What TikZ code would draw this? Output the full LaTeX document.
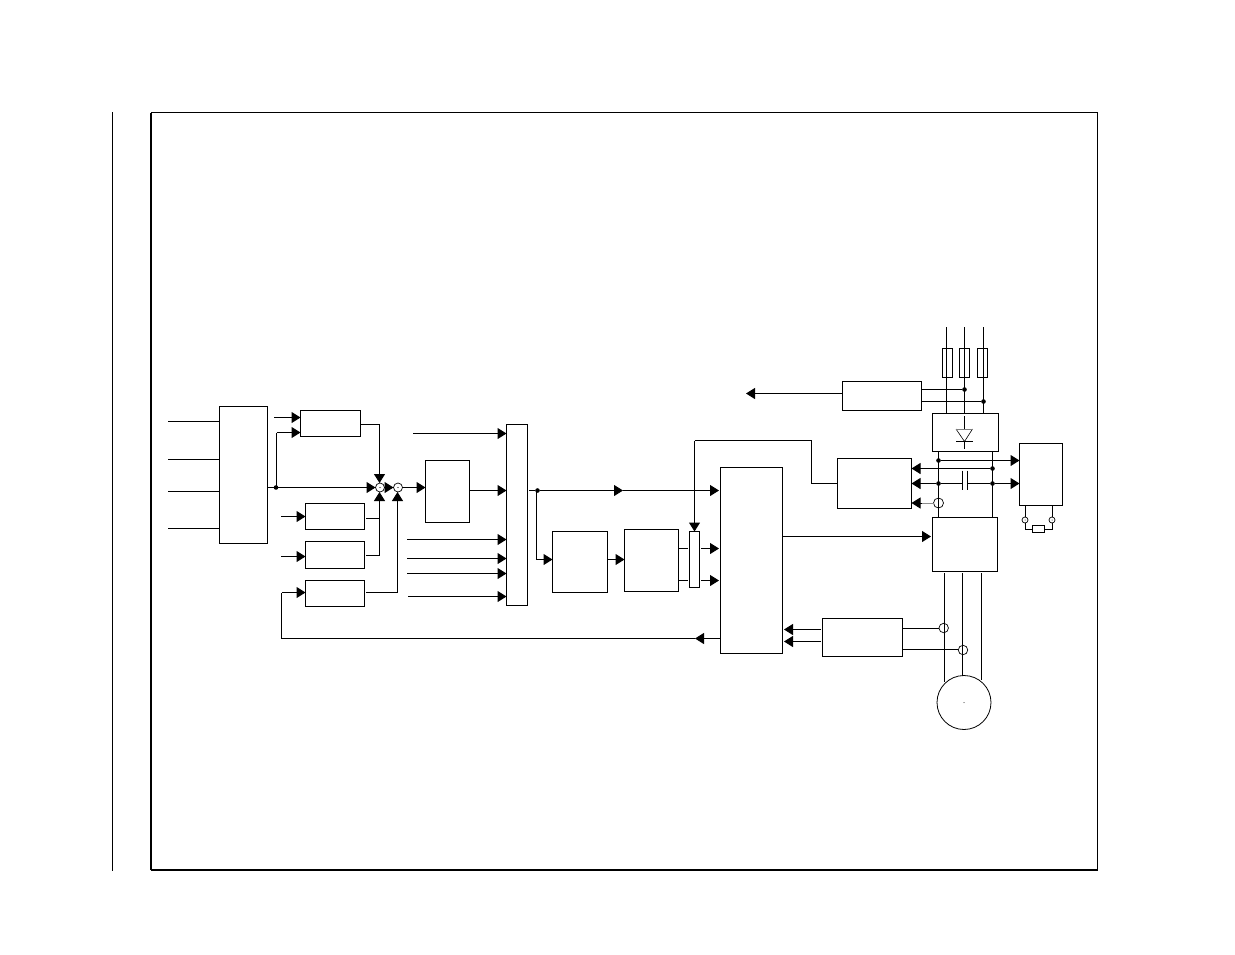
\documentclass[tikz,border=0pt]{standalone}
\usetikzlibrary{arrows.meta}
\tikzset{
  x=1pt,y=-1pt,
  box/.style={draw=black,fill=white,rectangle,line width=1pt,inner sep=0pt,outer sep=0pt},
  ln/.style={draw=black,line width=1pt},
  arr/.style={ln,-{Triangle[length=9pt,width=11pt]}},
  arrs/.style={ln,-{Triangle[length=9pt,width=11pt]},shorten >=1.5pt},
  dot/.style={circle,fill=black,inner sep=0pt,minimum size=4.6pt,outer sep=0pt},
  ring/.style={circle,draw=black,fill=white,line width=0.7pt,inner sep=0pt,outer sep=0pt},
}
\newcommand{\bx}[5]{\node[box,minimum width={(#4-#2)*1pt},minimum height={(#5-#3)*1pt}] (#1) at ({(#2+#4)/2},{(#3+#5)/2}) {};}
\begin{document}
\begin{tikzpicture}
\useasboundingbox (0,0) rectangle (1235,954);
% frame
\node[box,fill=none,minimum width=946.5pt,minimum height=757.5pt] (frame) at (624.25,491.25) {};
\draw[line width=2pt] (frame.south west) -- (frame.south east);
\draw[line width=2pt] (frame.south west) -- (frame.north west);
\coordinate (rulet) at (112.5,112); \coordinate (ruleb) at (112.5,871);
\draw[ln] (rulet) -- (ruleb);
% boxes
\bx{L}{219.5}{406.5}{267.5}{543.5}
\bx{A}{300.5}{410.5}{360.5}{436.5}
\bx{B}{305.5}{503.5}{364.5}{529.5}
\bx{C}{305.5}{541.5}{364.5}{568.5}
\bx{D}{305.5}{580.5}{364.5}{606.5}
\bx{E}{425.5}{460.5}{469.5}{522.5}
\bx{M}{506.5}{424.5}{527.5}{605.5}
\bx{F}{552.5}{531.5}{607.5}{592.5}
\bx{G}{624.5}{529.5}{678.5}{591.5}
\bx{H}{689.5}{531.5}{699.5}{587.5}
\bx{I}{720.5}{467.5}{782.5}{653.5}
\bx{J}{822.5}{618.5}{902.5}{656.5}
\bx{K}{842.5}{381.5}{921.5}{410.5}
\bx{N}{837.5}{458.5}{911.5}{508.5}
\bx{Inv}{932.5}{517.5}{997.5}{571.5}
\bx{Rec}{932.5}{413.5}{998.5}{451.5}
\bx{Br}{1019.5}{443.5}{1062.5}{505.5}
% left inputs
\foreach \n/\y in {1/421.5,2/459.5,3/491.5,4/528.5}{
  \coordinate (li\n) at (168,\y);
  \draw[ln] (li\n) -- (L.west |- li\n);
}
% summing points
\node[ring,minimum size=9pt] (s1) at (380,487.5) {};
\node[ring,minimum size=9pt] (s2) at (398,487.5) {};
\node[circle,fill=black,inner sep=0pt,minimum size=1.2pt] (s1d) at (380,487.5) {};
\node[circle,fill=black,inner sep=0pt,minimum size=1.2pt] (s2d) at (398,487.5) {};
\node[dot] (j1) at (276,487.5) {};
\coordinate (L1) at (L.east |- j1);
\draw[ln] (L1) -- (j1);
\draw[arr] (j1) -- (s1.west);
\coordinate (a1) at (274,417.5);
\draw[arr] (a1) -- (A.west |- a1);
\coordinate (a2) at (276.5,432.5);
\coordinate (j1u) at (276.5,487.5);
\draw[ln] (j1u) -- (a2);
\draw[arr] (a2) -- (A.west |- a2);
\coordinate (a3) at (379.5,424.5);
\draw[arr] (A.east |- a3) -- (a3) -- (s1.north -| a3);
\coordinate (b1) at (281,516.5);
\coordinate (c1) at (281,556.5);
\draw[arr] (b1) -- (B.west |- b1);
\draw[arr] (c1) -- (C.west |- c1);
\coordinate (b2) at (366,518.5);
\coordinate (c2) at (366,555.5);
\coordinate (d2) at (366,592.5);
\coordinate (sb) at (379.5,555.5);
\coordinate (sd) at (397.5,592.5);
\draw[ln] (b2) -- (b2 -| sb);
\draw[arr] (c2) -- (sb) -- (s1.south -| sb);
\draw[arr] (d2) -- (sd) -- (s2.south -| sd);
\draw[arr] (s1.east) -- (s2.west);
\draw[arr] (s2.east) -- (E.west |- s2);
% feedback
\coordinate (fbm) at (695,638.5);
\coordinate (fbc) at (281.5,638.5);
\coordinate (fbu) at (281.5,592.5);
\coordinate (fbs) at (720.5,638.5);
\draw[arr] (fbs) -- (fbm);
\draw[ln] (fbm) -- (fbc) -- (fbu);
\draw[arr] (fbu) -- (D.west |- fbu);
% mux
\coordinate (e1) at (469.5,490.5);
\draw[arr] (e1) -- (M.west |- e1);
\foreach \n/\x/\y in {1/413/433.5,2/407/539.5,3/407/558.5,4/407/573.5,5/408/596.5}{
  \coordinate (mi\n) at (\x,\y);
  \draw[arr] (mi\n) -- (M.west |- mi\n);
}
\node[dot] (j2) at (537.5,490.5) {};
\coordinate (mo) at (529,490.5);
\coordinate (mm) at (623,490.5);
\draw[ln] (mo) -- (j2);
\draw[arr] (j2) -- (mm);
\draw[arrs] (mm) -- (I.west |- mm);
\coordinate (j2b) at (536.5,490.5);
\coordinate (f1) at (536.5,559.5);
\draw[ln] (j2b) -- (f1);
\draw[arr] (f1) -- (F.west |- f1);
\coordinate (f2) at (607.5,559.5);
\draw[arr] (f2) -- (G.west |- f2);
\coordinate (g1) at (678.5,548.5);
\coordinate (g2) at (678.5,580.5);
\draw[ln] (g1) -- (688,548.5);
\draw[ln] (g2) -- (688,580.5);
\coordinate (h1) at (701,548.5);
\coordinate (h2) at (701,580.5);
\draw[arrs] (h1) -- (I.west |- h1);
\draw[arrs] (h2) -- (I.west |- h2);
\coordinate (t1) at (694.5,440.5);
\coordinate (t2) at (811.5,440.5);
\coordinate (t3) at (811.5,483.5);
\draw[ln] (N.west |- t3) -- (t3) -- (t2) -- (t1);
\draw[arr] (t1) -- (H.north -| t1);
\coordinate (i1) at (782.5,536.5);
\draw[arrs] (i1) -- (Inv.west |- i1);
% J
\coordinate (j1a) at (821,629.5);
\coordinate (j1b) at (821,641.5);
\draw[arr] (j1a) -- (784,629.5);
\draw[arr] (j1b) -- (784,641.5);
% mains
\coordinate (p1) at (946.5,327);
\coordinate (p2) at (964.5,327);
\coordinate (p3) at (983.5,327);
\bx{Fa}{942.5}{348.5}{952.5}{377.5}
\bx{Fb}{959.5}{348.5}{969.5}{377.5}
\bx{Fc}{977.5}{348.5}{987.5}{377.5}
\draw[ln] (p1) -- (Rec.north -| p1);
\draw[ln] (p2) -- (Rec.north -| p2);
\draw[ln] (p3) -- (Rec.north -| p3);
\node[dot] (k1) at (964.5,389.5) {};
\node[dot] (k2) at (983.5,401.5) {};
\draw[ln] (K.east |- k1) -- (k1);
\draw[ln] (K.east |- k2) -- (k2);
\coordinate (kl) at (842.5,393.5);
\coordinate (kt) at (746,393.5);
\draw[arr] (kl) -- (kt);
% diode
\coordinate (d0) at (964.5,416);
\coordinate (d1) at (964.5,429);
\coordinate (d2t) at (964.5,441.5);
\coordinate (d3) at (964.5,449);
\draw[ln] (d0) -- (d1) (d2t) -- (d3);
\draw[line width=0.6pt] (956,429) -- (d2t) -- (972.5,429);
\draw[draw=black!50,line width=1pt] (956,429.5) -- (972.5,429.5);
\draw[ln] (956,441.5) -- (972.5,441.5);
% DC bus
\coordinate (bu1) at (938.5,451.5);
\coordinate (bu2) at (992.5,451.5);
\draw[ln] (bu1) -- (Inv.north -| bu1);
\draw[ln] (bu2) -- (Inv.north -| bu2);
\node[dot] (n1) at (938.5,460.5) {};
\node[dot] (n2) at (992.5,468.5) {};
\node[dot] (n3) at (938.5,483.5) {};
\node[dot] (n4) at (992.5,483.5) {};
\draw[arr] (n1) -- (Br.west |- n1);
\draw[arr] (n2) -- (N.east |- n2);
\coordinate (cl) at (962.5,483.5);
\coordinate (cr) at (967.5,483.5);
\draw[ln] (cl) -- (n3);
\draw[arr] (n3) -- (N.east |- n3);
\draw[ln] (cr) -- (n4);
\draw[arr] (n4) -- (Br.west |- n4);
\draw[ln] (962.5,470.5) -- (962.5,490);
\draw[ln] (967.5,470.5) -- (967.5,490);
\node[ring,minimum size=10pt] (cs) at (938.5,503) {};
\draw[ln] (938.5,498) -- (938.5,508);
\coordinate (csa) at (922,503);
\draw[draw=black!45,line width=1pt] (cs.west) -- (csa);
\draw[arr] (csa) -- (N.east |- cs);
% motor leads
\node[circle,draw=black,fill=white,line width=0.8pt,minimum size=54pt,inner sep=0pt,outer sep=0pt] (mot) at (964,702.5) {};
\node[circle,fill=black,inner sep=0pt,minimum size=1pt] (motd) at (964,702.5) {};
\coordinate (m1) at (944.5,573);
\coordinate (m2) at (962.5,573);
\coordinate (m3) at (981.5,573);
\draw[ln] (m1) -- (944.5,682);
\draw[ln] (m2) -- (962.5,675.5);
\draw[ln] (m3) -- (981.5,680);
\node[ring,minimum size=9.5pt,fill=none] (cs1) at (943.7,628) {};
\node[ring,minimum size=9.5pt,fill=none] (cs2) at (963,650) {};
\coordinate (js1) at (902.5,628.5);
\coordinate (js2) at (902.5,649.5);
\draw[ln] (js1) -- (js1 -| cs1.west);
\draw[ln] (js2) -- (js2 -| cs2.west);
% brake resistor
\node[ring,minimum size=6pt] (r1) at (1025,520) {};
\node[ring,minimum size=6pt] (r2) at (1052,520) {};
\node[circle,fill=black,inner sep=0pt,minimum size=1pt] (r1d) at (1025,520) {};
\node[circle,fill=black,inner sep=0pt,minimum size=1pt] (r2d) at (1052,520) {};
\bx{R}{1032.5}{525.5}{1044.5}{532.5}
\draw[ln] (Br.south -| r1) -- (r1.north);
\draw[ln] (Br.south -| r2) -- (r2.north);
\draw[ln] (r1.south) |- (R.west);
\draw[ln] (r2.south) |- (R.east);
\end{tikzpicture}
\end{document}
